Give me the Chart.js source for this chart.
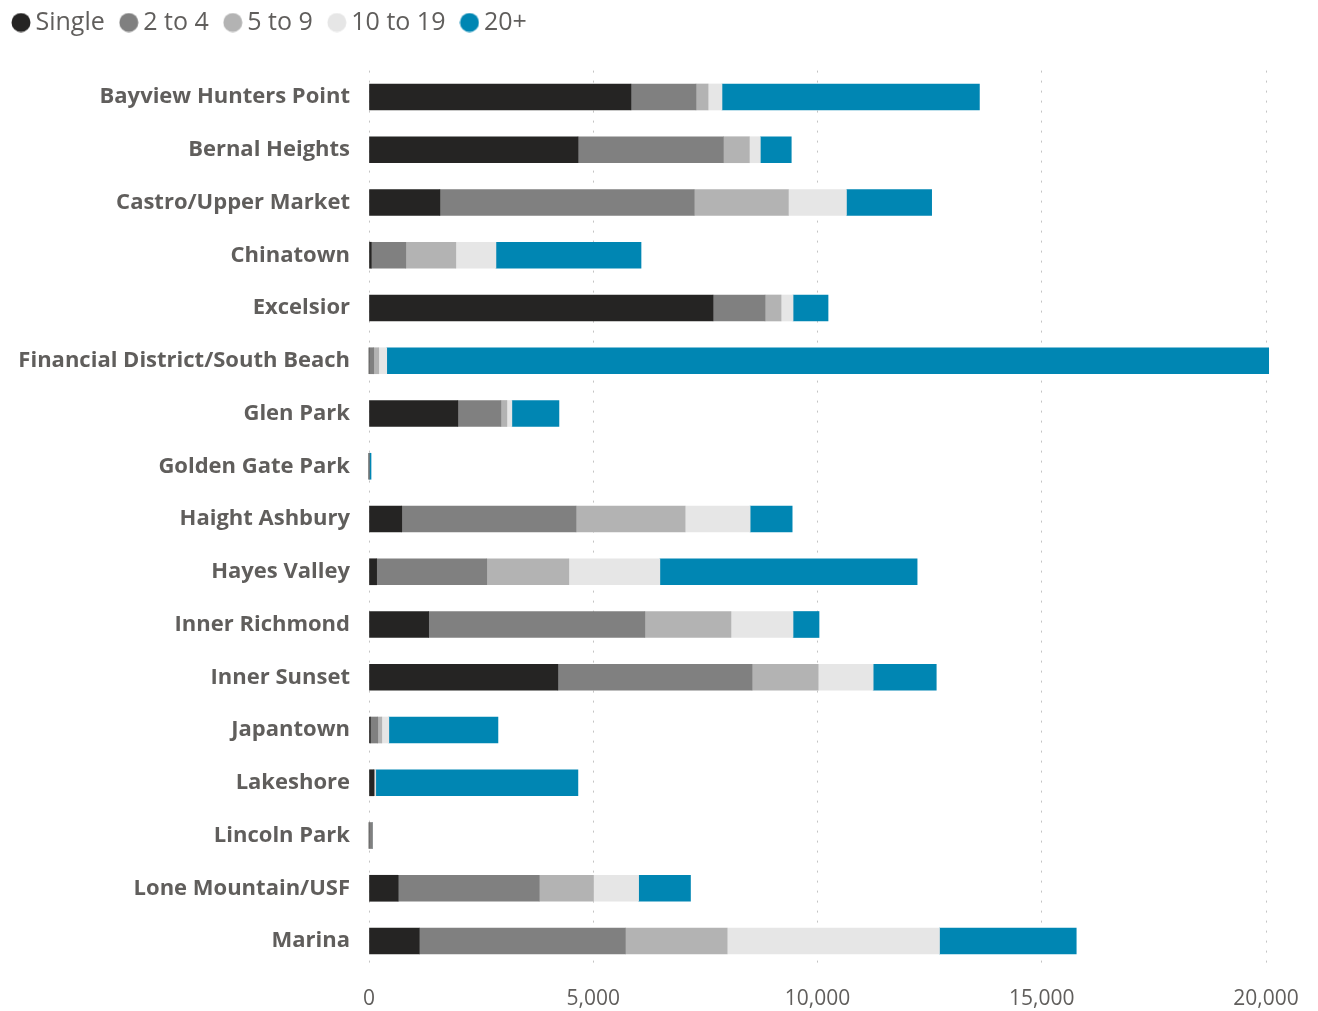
<!DOCTYPE html>
<html>
<head>
<meta charset="utf-8">
<script src="https://cdn.jsdelivr.net/npm/chart.js@4.4.1/dist/chart.umd.min.js"></script>
<style>
  html, body { margin: 0; padding: 0; background: #ffffff; }
  #wrap { width: 1318px; height: 1011px; position: relative; }
</style>
</head>
<body>
<div id="wrap"><canvas id="c" width="1318" height="1011"></canvas></div>
<script>
const categories = ["Bayview Hunters Point","Bernal Heights","Castro/Upper Market","Chinatown","Excelsior","Financial District/South Beach","Glen Park","Golden Gate Park","Haight Ashbury","Hayes Valley","Inner Richmond","Inner Sunset","Japantown","Lakeshore","Lincoln Park","Lone Mountain/USF","Marina"];
const seriesNames = ["Single","2 to 4","5 to 9","10 to 19","20+"];
const single        = [5840,4660,1580,50,7670,0,1980,0,730,170,1330,4210,30,105,0,650,1120];
const twoToFour     = [1450,3240,5670,770,1160,105,960,0,3885,2455,4820,4330,165,15,75,3145,4595];
const fiveToNine    = [270,580,2100,1115,357,112,134,0,2433,1830,1920,1474,90,10,0,1210,2270];
const tenToNineteen = [310,245,1295,895,268,178,111,0,1450,2030,1384,1227,157,20,0,1006,4735];
const twentyPlus    = [5740,690,1900,3235,780,19665,1050,45,937,5736,580,1407,2433,4508,0,1157,3049];
const xTicks = [0,5000,10000,15000,20000];

const colors = ["#252423","#808080","#b3b3b3","#e6e6e6","#0086b3"];
const values = [single, twoToFour, fiveToNine, tenToNineteen, twentyPlus];

const FONT = "'Open Sans', 'Noto Sans', sans-serif";
const TXT = "#605e5c";

// legend dot images
const DOT = 20;
const dots = colors.map(c => {
  const cv = document.createElement('canvas');
  cv.width = DOT; cv.height = DOT;
  const g = cv.getContext('2d');
  g.fillStyle = c;
  g.beginPath();
  g.arc(DOT / 2, DOT / 2, DOT / 2 - 0.5, 0, Math.PI * 2);
  g.fill();
  return cv;
});

const PAD_LEFT = -3, PAD_TOP = -12;
const PLOT_LEFT = 369, PLOT_TOP = 70.6, PLOT_BOTTOM = 967.4, H = 1011;

const legendHeight = {
  id: 'legendHeight',
  beforeLayout(chart) {
    const lg = chart.legend;
    if (lg && !lg._patched) {
      const f = lg.fit;
      lg.fit = function () { f.call(this); this.height = PLOT_TOP - PAD_TOP; };
      lg._patched = true;
    }
  }
};

new Chart(document.getElementById('c'), {
  type: 'bar',
  data: {
    labels: categories,
    datasets: seriesNames.map((n, i) => ({
      label: n,
      data: values[i],
      backgroundColor: colors[i],
      borderWidth: 0,
      barThickness: 26,
      clip: false
    }))
  },
  plugins: [legendHeight],
  options: {
    indexAxis: 'y',
    responsive: false,
    animation: false,
    layout: { padding: { left: PAD_LEFT, right: 52, top: PAD_TOP, bottom: 0 } },
    plugins: {
      tooltip: { enabled: false },
      legend: {
        position: 'top',
        align: 'start',
        labels: {
          usePointStyle: true,
          boxHeight: 4,
          boxWidth: 4,
          padding: 22,
          color: TXT,
          font: { family: FONT, size: 25, weight: '400' },
          generateLabels(chart) {
            const items = Chart.defaults.plugins.legend.labels.generateLabels(chart);
            items.forEach(it => { it.pointStyle = dots[it.datasetIndex]; });
            return items;
          }
        }
      }
    },
    scales: {
      x: {
        stacked: true,
        min: 0,
        max: 20000,
        afterBuildTicks: (axis) => { axis.ticks = xTicks.map(v => ({ value: v })); },
        afterFit: (axis) => { axis.height = H - PLOT_BOTTOM; },
        grid: {
          drawTicks: false,
          color: '#c4c4c4',
          lineWidth: 1
        },
        border: { display: false, dash: [2, 8] },
        ticks: {
          padding: 19,
          color: TXT,
          font: { family: FONT, size: 21, weight: '400' },
          callback: (v) => Number(v).toLocaleString('en-US')
        }
      },
      y: {
        stacked: true,
        afterFit: (axis) => { axis.width = PLOT_LEFT - PAD_LEFT; },
        grid: { display: false, drawTicks: false },
        border: { display: false },
        ticks: {
          padding: 19,
          color: TXT,
          font: { family: FONT, size: 22, weight: '700' }
        }
      }
    }
  }
});
</script>
</body>
</html>
